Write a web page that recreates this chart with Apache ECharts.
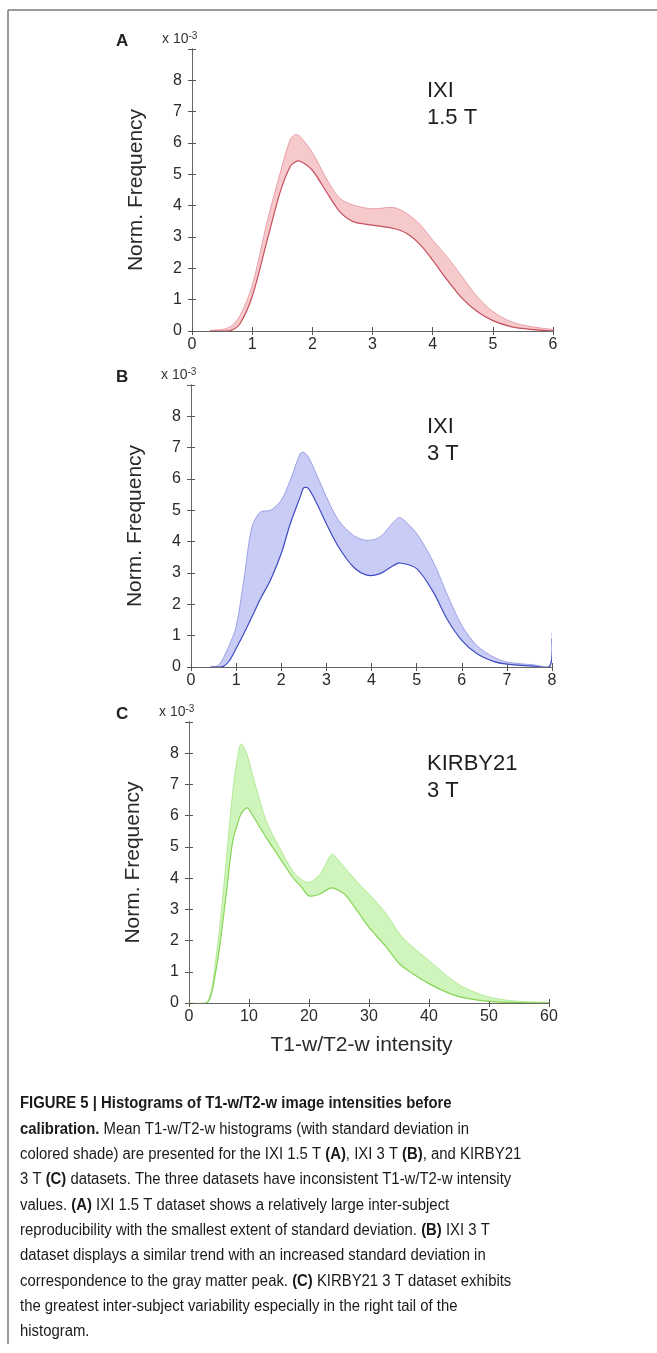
<!DOCTYPE html>
<html>
<head>
<meta charset="utf-8">
<script src="https://cdn.jsdelivr.net/npm/echarts@6/dist/echarts.min.js"></script>
<style>
* { margin: 0; padding: 0; }
body { background: #fff; }
#main { width: 657px; height: 1353px; }
</style>
</head>
<body>
<div id="main"></div>
<script>
// values in units of 1e-3
var aX    = [0.3, 0.5, 0.65, 0.8, 1.0, 1.25, 1.46, 1.63, 1.72, 1.8, 2.0, 2.25, 2.46, 2.68, 3.0, 3.35, 3.57, 3.8, 4.0, 4.24, 4.49, 4.74, 5.0, 5.3, 5.63, 6.0];
var aLow  = [0, 0, 0.02, 0.24, 1.1, 2.9, 4.4, 5.24, 5.4, 5.42, 5.13, 4.39, 3.8, 3.49, 3.38, 3.27, 3.11, 2.74, 2.26, 1.63, 1.04, 0.62, 0.33, 0.14, 0.05, 0];
var aHigh = [0.02, 0.05, 0.15, 0.5, 1.45, 3.5, 5.0, 6.1, 6.27, 6.2, 5.7, 4.81, 4.23, 4.02, 3.9, 3.94, 3.75, 3.38, 2.9, 2.37, 1.73, 1.1, 0.62, 0.3, 0.14, 0.05];

var bX    = [0.43, 0.6, 0.72, 0.85, 1.0, 1.17, 1.35, 1.54, 1.76, 2.0, 2.2, 2.42, 2.5, 2.6, 2.79, 3.0, 3.27, 3.6, 3.9, 4.19, 4.49, 4.63, 5.0, 5.37, 5.67, 6.0, 6.33, 6.7, 7.0, 7.59, 7.95, 8.0];
var bLow  = [0, 0, 0.02, 0.2, 0.59, 1.06, 1.6, 2.18, 2.77, 3.62, 4.57, 5.43, 5.72, 5.7, 5.21, 4.57, 3.83, 3.19, 2.93, 2.98, 3.24, 3.32, 3.14, 2.39, 1.54, 0.85, 0.43, 0.18, 0.09, 0.03, 0.02, 0.9];
var bHigh = [0, 0.05, 0.3, 0.7, 1.28, 2.77, 4.47, 4.95, 5.0, 5.32, 5.96, 6.81, 6.85, 6.7, 6.12, 5.43, 4.68, 4.2, 4.04, 4.15, 4.63, 4.77, 4.26, 3.35, 2.34, 1.33, 0.69, 0.32, 0.16, 0.07, 0.05, 1.1];

var cX    = [0, 2.9, 3.5, 4.0, 5.1, 6.2, 7.3, 8.4, 8.8, 9.6, 10, 11.2, 12.9, 15.1, 17.3, 18.8, 20, 21.8, 23.5, 24, 25, 26.2, 28.4, 30, 32.9, 35.1, 37.3, 40, 42.9, 45.7, 50, 54.6, 60];
var cLow  = [0, 0, 0.15, 0.51, 1.79, 3.49, 5.19, 5.93, 6.1, 6.25, 6.2, 5.82, 5.29, 4.65, 4.02, 3.7, 3.43, 3.49, 3.68, 3.68, 3.6, 3.43, 2.85, 2.42, 1.79, 1.25, 0.94, 0.62, 0.35, 0.17, 0.05, 0.01, 0];
var cHigh = [0, 0.02, 0.25, 0.72, 2.42, 4.55, 6.78, 8.21, 8.29, 8.0, 7.74, 6.89, 5.82, 4.97, 4.23, 3.95, 3.86, 4.12, 4.7, 4.76, 4.55, 4.28, 3.8, 3.49, 2.85, 2.21, 1.79, 1.36, 0.88, 0.51, 0.19, 0.06, 0.02];

var yTicks = [0, 1, 2, 3, 4, 5, 6, 7, 8];

var font = 'Liberation Sans, Arial, sans-serif';
var panels = [
    {x: aX, lo: aLow, hi: aHigh, xmax: 6, step: 1, left: 192, right: 104, top: 49, height: 282,
     fill: '#f6c9cb', line: '#c4505e', edge: '#e39099', letter: 'A', tag: ['IXI', '1.5 T']},
    {x: bX, lo: bLow, hi: bHigh, xmax: 8, step: 1, left: 191, right: 105, top: 385, height: 282,
     fill: '#c9ccf5', line: '#3f4bc2', edge: '#8a90e0', letter: 'B', tag: ['IXI', '3 T']},
    {x: cX, lo: cLow, hi: cHigh, xmax: 60, step: 10, left: 189, right: 108, top: 722, height: 281,
     fill: '#cff5bc', line: '#86d455', edge: '#a8e688', letter: 'C', tag: ['KIRBY21', '3 T']}
]

var grid = [], xAxis = [], yAxis = [], series = [], graphic = []
var tick = {show: true, inside: true, length: 4, lineStyle: {color: '#555'}}
var line = {show: true, lineStyle: {color: '#666', width: 1}}

function bandSeries(p, i) {
    return {
        type: 'custom', coordinateSystem: 'cartesian2d', xAxisIndex: i * 2, yAxisIndex: i * 2,
        data: [[0, 0]], clip: true, silent: true,
        renderItem: function (params, api) {
            var top = p.x.map(function (x, k) { return api.coord([x, p.hi[k]]) })
            var bot = p.x.map(function (x, k) { return api.coord([x, p.lo[k]]) })
            return {
                type: 'group',
                children: [
                    {type: 'polygon', shape: {points: top.concat(bot.slice().reverse()), smooth: 0.3},
                     style: {fill: p.fill}},
                    {type: 'polyline', shape: {points: top, smooth: 0.3},
                     style: {stroke: p.edge, fill: null, lineWidth: 0.8}},
                    {type: 'polyline', shape: {points: bot, smooth: 0.3},
                     style: {stroke: p.line, fill: null, lineWidth: 1.2}}
                ]
            }
        }
    }
}

panels.forEach(function (p, i) {
    grid.push({left: p.left, right: p.right, top: p.top, height: p.height})
    xAxis.push({
        type: 'value', gridIndex: i, min: 0, max: p.xmax, interval: p.step, position: 'bottom',
        axisLine: line, axisTick: tick, splitLine: {show: false},
        axisLabel: {color: '#2a2a2a', fontSize: 16, fontFamily: font, margin: 6},
        name: i === 2 ? 'T1-w/T2-w intensity' : '', nameLocation: 'middle', nameGap: 32,
        nameTextStyle: {color: '#2a2a2a', fontSize: 21, fontFamily: font, padding: [0, 15, 0, 0]}
    })
    xAxis.push({
        type: 'value', gridIndex: i, min: 0, max: p.xmax, interval: p.step, position: 'top',
        axisLine: line, axisTick: tick, axisLabel: {show: false}, splitLine: {show: false}
    })
    yAxis.push({
        type: 'value', gridIndex: i, min: 0, max: 9, interval: 1, position: 'left',
        axisLine: line, axisTick: tick, splitLine: {show: false},
        axisLabel: {
            color: '#2a2a2a', fontSize: 16, fontFamily: font, margin: 10,
            formatter: function (v) { return yTicks.indexOf(v) >= 0 ? String(v) : '' }
        },
        name: 'Norm. Frequency', nameLocation: 'middle', nameGap: 45, nameRotate: 90,
        nameTextStyle: {color: '#2a2a2a', fontSize: 21, fontFamily: font}
    })
    yAxis.push({
        type: 'value', gridIndex: i, min: 0, max: 9, interval: 1, position: 'right',
        axisLine: line, axisTick: tick, axisLabel: {show: false}, splitLine: {show: false}
    })

    series.push(bandSeries(p, i))

    graphic.push({
        type: 'text', left: 116, top: p.top - 16,
        style: {text: p.letter, font: 'bold 17px ' + font, fill: '#222'}
    })
    graphic.push({
        type: 'text', left: p.left - 30, top: p.top - 18,
        style: {
            text: 'x 10{s|-3}', font: '14px ' + font, fill: '#333',
            rich: {s: {fontSize: 10, fontFamily: font, fill: '#333', verticalAlign: 'top', padding: [0, 0, 6, 0]}}
        }
    })
    graphic.push({
        type: 'text', left: 427, top: p.top + 28,
        style: {text: p.tag.join('\n'), font: '22px ' + font, fill: '#1e1e1e', lineHeight: 27}
    })
})

// outer frame
graphic.push({type: 'line', shape: {x1: 8, y1: 10, x2: 657, y2: 10}, style: {stroke: '#7a7a7a', lineWidth: 1.5}})
graphic.push({type: 'line', shape: {x1: 8, y1: 10, x2: 8, y2: 1344}, style: {stroke: '#7a7a7a', lineWidth: 1.5}})

var caption = [
    '{b|FIGURE 5 | Histograms of T1-w/T2-w image intensities before}',
    '{b|calibration.} Mean T1-w/T2-w histograms (with standard deviation in',
    'colored shade) are presented for the IXI 1.5 T {b|(A)}, IXI 3 T {b|(B)}, and KIRBY21',
    '3 T {b|(C)} datasets. The three datasets have inconsistent T1-w/T2-w intensity',
    'values. {b|(A)} IXI 1.5 T dataset shows a relatively large inter-subject',
    'reproducibility with the smallest extent of standard deviation. {b|(B)} IXI 3 T',
    'dataset displays a similar trend with an increased standard deviation in',
    'correspondence to the gray matter peak. {b|(C)} KIRBY21 3 T dataset exhibits',
    'the greatest inter-subject variability especially in the right tail of the',
    'histogram.'
]
caption.forEach(function (t, k) {
    graphic.push({
        type: 'text', x: 20, y: 1096 + k * 25.3, scaleX: 0.93,
        style: {
            text: t, font: '16px ' + font, fill: '#1a1a1a', verticalAlign: 'top',
            rich: {b: {fontWeight: 'bold', fontSize: 16, fontFamily: font, fill: '#1a1a1a'}}
        }
    })
})

var chart = echarts.init(document.getElementById('main'))
chart.setOption({
    animation: false,
    backgroundColor: '#fff',
    grid: grid,
    xAxis: xAxis,
    yAxis: yAxis,
    series: series,
    graphic: graphic
})
</script>
</body>
</html>
